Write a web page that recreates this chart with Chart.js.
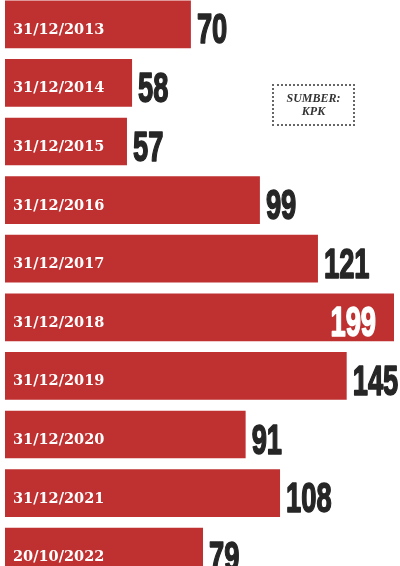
<!DOCTYPE html>
<html>
<head>
<meta charset="utf-8">
<script src="https://cdn.jsdelivr.net/npm/chart.js@4"></script>
<style>
  html, body { margin: 0; padding: 0; background: #fff; }
  #wrap { position: relative; width: 400px; height: 566px; overflow: hidden; }
  #box { position: absolute; top: -5px; left: 0; width: 400px; height: 586px; }
  .source {
    position: absolute; left: 272px; top: 84px; width: 79px; height: 38px;
    border: 2px dotted #666; box-sizing: content-box;
    font: italic bold 12px "Liberation Serif", serif; color: #333;
    text-align: center; line-height: 13px;
    display: flex; flex-direction: column; justify-content: center;
  }
</style>
</head>
<body>
<div id="wrap">
  <div id="box"><canvas id="chart"></canvas></div>
  <div class="source"><span>SUMBER:</span><span>KPK</span></div>
</div>
<script>
// Dates shown inside each bar
const dates = ['31/12/2013', '31/12/2014', '31/12/2015', '31/12/2016', '31/12/2017',
               '31/12/2018', '31/12/2019', '31/12/2020', '31/12/2021', '20/10/2022'];

// Numbers printed next to each bar
const counts = [70, 58, 57, 99, 121, 199, 145, 91, 108, 79];

// Bar lengths as drawn in the source graphic (they are not proportional
// to the counts) on a 0-199 scale
const barLength = [95.1, 65.0, 62.4, 130.4, 160.1, 199, 174.8, 123.1, 140.7, 101.3];

const barRed = '#bf3131';
const darkText = '#262626';

// Draw date labels inside the bars and counts at the bar ends
const labelPlugin = {
    id: 'barLabels',
    afterDatasetsDraw(chart) {
        const ctx = chart.ctx;
        const meta = chart.getDatasetMeta(0);
        const maxCount = Math.max(...counts);
        meta.data.forEach((bar, i) => {
            const bottom = bar.y + bar.height / 2;

            ctx.save();
            ctx.fillStyle = '#fff';
            ctx.font = 'bold 14.5px "DejaVu Serif", serif';
            ctx.textAlign = 'left';
            ctx.textBaseline = 'alphabetic';
            ctx.fillText(dates[i], bar.base + 8, bottom - 14.3);
            ctx.restore();

            // condensed look for the big numbers
            ctx.save();
            ctx.font = 'bold 42px "Liberation Sans Narrow", sans-serif';
            ctx.textBaseline = 'alphabetic';
            const inside = counts[i] === maxCount;
            if (inside) {
                ctx.fillStyle = '#fff';
                ctx.strokeStyle = '#fff';
                ctx.textAlign = 'right';
                ctx.translate(bar.x - 18, bottom - 4.8);
            } else {
                ctx.fillStyle = darkText;
                ctx.strokeStyle = darkText;
                ctx.textAlign = 'left';
                ctx.translate(bar.x + 6, bottom - 4.8);
            }
            ctx.scale(0.65, 1);
            ctx.lineWidth = 1.6;
            ctx.lineJoin = 'round';
            ctx.fillText(String(counts[i]), 0, 0);
            ctx.strokeText(String(counts[i]), 0, 0);
            ctx.restore();
        });
    }
};

new Chart(document.getElementById('chart'), {
    type: 'bar',
    data: {
        labels: dates,
        datasets: [{
            data: barLength,
            backgroundColor: barRed,
            borderWidth: 0,
            barPercentage: 0.814,
            categoryPercentage: 1
        }]
    },
    options: {
        indexAxis: 'y',
        responsive: true,
        maintainAspectRatio: false,
        animation: false,
        layout: { padding: { left: 5, right: 6, top: 0, bottom: 0 } },
        scales: {
            x: { display: false, min: 0, max: 199 },
            y: { display: false }
        },
        plugins: {
            legend: { display: false },
            tooltip: { enabled: false }
        }
    },
    plugins: [labelPlugin]
});
</script>
</body>
</html>
